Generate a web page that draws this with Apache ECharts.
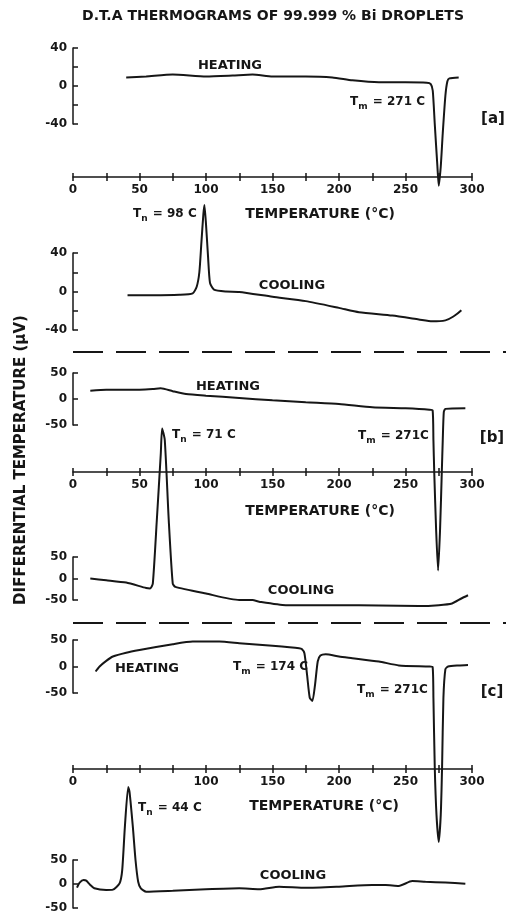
<!DOCTYPE html>
<html>
<head>
<meta charset="utf-8">
<title>DTA thermograms</title>
<script src="https://cdn.jsdelivr.net/npm/echarts@6.0.0/dist/echarts.min.js"></script>
<style>html,body{margin:0;padding:0;background:#fff}</style>
</head>
<body>
<div id="main" style="width:506px;height:914px;"></div>
<script>
// temperature (deg C) / differential temperature (uV)

// [a] heating
var aHeatT = [40, 55, 75, 100, 120, 135, 150, 175, 195, 210, 230, 250, 266, 269, 270.5, 272, 274, 275, 276.5, 278, 280, 281.5, 283, 290];
var aHeatV = [9, 10, 12, 10, 11, 12, 10, 10, 9, 6, 4, 4, 3.5, 2, -5, -40, -85, -105, -85, -50, -10, 5, 8, 9];
// [a] cooling
var aCoolT = [41, 60, 80, 90, 93, 95, 96.5, 98, 98.8, 100, 101.5, 103, 106, 115, 125, 150, 175, 200, 215, 240, 260, 270, 280, 286, 292];
var aCoolV = [-4, -4, -3.5, -2, 5, 20, 50, 80, 90, 70, 37, 9, 2, 0, -0.5, -5.5, -10, -17, -21.5, -25, -29, -31, -30, -26, -19.5];

// [b] heating
var bHeatT = [13, 25, 50, 60, 66, 75, 85, 100, 125, 150, 175, 200, 225, 250, 268, 270.4, 271, 271.6, 273, 274.5, 276, 277.3, 278, 278.8, 280, 295];
var bHeatV = [16, 18, 18, 19, 20.5, 15, 9.6, 6.4, 2, -2.6, -6.4, -9.6, -16, -18, -20.5, -22, -80, -140, -250, -330, -250, -140, -80, -25, -19, -18];
// [b] cooling
var bCoolT = [13, 25, 40, 55, 58, 60, 63, 66, 67, 69, 72, 75, 77, 100, 125, 135, 140, 160, 200, 230, 260, 275, 285, 292, 297];
var bCoolV = [0, -4, -9.5, -22, -23, -12, 135, 290, 349, 322, 135, -12, -19.5, -35, -50, -50, -54, -62, -62, -63, -64, -62, -58, -46.5, -39];

// [c] heating
var cHeatT = [17, 20, 25, 30, 40, 50, 75, 90, 110, 125, 150, 170, 172, 174, 176, 178, 180, 182, 184, 186, 190, 200, 210, 230, 245, 268, 270.4, 271, 272, 273.3, 275, 276.5, 277.5, 278.5, 280, 282, 290, 297];
var cHeatV = [-9.4, 0, 10.6, 18.8, 26, 31, 42, 47, 47, 44, 39, 34.5, 33, 25, -16, -59, -65, -34, 9.4, 20.6, 23, 18.8, 15.7, 9.4, 2, 0, -1, -60, -190, -280, -331, -280, -190, -60, -5, 0, 2, 3];
// [c] cooling
var cCoolT = [3, 5, 8, 10, 13, 16, 25, 30, 35, 37, 39, 41.5, 42.5, 45, 47, 49, 51, 55, 75, 100, 125, 140, 155, 175, 200, 225, 235, 245, 255, 265, 280, 295];
var cCoolV = [-7.7, 2.8, 8.3, 7, -2, -9, -12.5, -11.8, 1.4, 29, 119, 202, 192, 119, 50, 4.8, -9, -16, -14, -11, -9, -11, -5.5, -8, -5.5, -2, -2, -4, 6, 4.5, 3, 0.5];

var INK = '#161616';
var FONT = 'DejaVu Sans';

var chart = echarts.init(document.getElementById('main'));

function pairs(t, v) {
    return t.map(function (x, i) { return [x, v[i]]; });
}

// one grid per curve, all share the same temperature scale
var gridTops = [48, 253, 373, 557, 640, 860];
var gridHeights = [76, 77, 52, 43, 53, 48];
var grids = gridTops.map(function (top, i) {
    return { left: 73, width: 399, top: top, height: gridHeights[i] };
});

function tempAxis(gi, offset, skip50, inward) {
    return {
        type: 'value', gridIndex: gi, position: 'bottom', offset: offset,
        min: 0, max: 300, interval: 25,
        axisLine: { show: !inward, onZero: false, lineStyle: { color: INK, width: 1.5 } },
        axisTick: { show: true, inside: !!inward, length: 4, lineStyle: { color: INK, width: 1.5 } },
        axisLabel: {
            show: !inward, margin: 7, color: INK, fontFamily: FONT, fontWeight: 'bold', fontSize: 12,
            formatter: function (v) {
                if (v % 50 !== 0) return '';
                if (skip50 && v === 50) return '';
                return String(v);
            }
        },
        splitLine: { show: false }
    };
}
function hiddenTemp(gi) {
    return { type: 'value', gridIndex: gi, min: 0, max: 300, show: false };
}
function diffAxis(gi, lim, step) {
    return {
        type: 'value', gridIndex: gi, min: -lim, max: lim, interval: step,
        axisLine: { show: true, onZero: false, lineStyle: { color: INK, width: 1.5 } },
        axisTick: { show: true, inside: true, length: 5, lineStyle: { color: INK, width: 1.5 } },
        axisLabel: {
            margin: 6, color: INK, fontFamily: FONT, fontWeight: 'bold', fontSize: 12,
            formatter: function (v) { return v % lim === 0 ? String(v) : ''; }
        },
        splitLine: { show: false }
    };
}

var xAxes = [
    tempAxis(0, 53, false, false), hiddenTemp(1),
    tempAxis(2, 47, false, false), hiddenTemp(3),
    tempAxis(4, 76, true, false), hiddenTemp(5),
    // second copies give the ticks their upper half
    tempAxis(0, 53, false, true), tempAxis(2, 47, false, true), tempAxis(4, 76, true, true)
];
var yAxes = [
    diffAxis(0, 40, 20), diffAxis(1, 40, 20),
    diffAxis(2, 50, 50), diffAxis(3, 50, 50),
    diffAxis(4, 50, 50), diffAxis(5, 50, 50)
];

function curve(i, t, v) {
    return {
        type: 'line', xAxisIndex: i, yAxisIndex: i, data: pairs(t, v),
        showSymbol: false, clip: false, smooth: 0.2, silent: true,
        lineStyle: { color: INK, width: 2 }
    };
}

var rich = {
    n: { fontSize: 12, fontWeight: 'bold', fontFamily: FONT, fill: INK },
    s: { fontSize: 9, fontWeight: 'bold', fontFamily: FONT, fill: INK, padding: [9, 1, 0, 0] }
};
function note(x, y, text, align, size) {
    return {
        type: 'text', x: x, y: y, silent: true,
        style: {
            text: text, rich: rich, fill: INK, fontFamily: FONT, fontWeight: 'bold', fontSize: size || 12,
            align: align || 'left', textAlign: align || 'left',
            verticalAlign: 'middle', textVerticalAlign: 'middle'
        }
    };
}
function dash(y) {
    return {
        type: 'line', silent: true,
        shape: { x1: 73, y1: y, x2: 506, y2: y },
        style: { stroke: INK, lineWidth: 2, lineDash: [30, 13] }
    };
}

var title = note(273, 16, 'D.T.A THERMOGRAMS OF 99.999 % Bi DROPLETS', 'center', 14);
var yTitle = note(21, 460, 'DIFFERENTIAL TEMPERATURE (\u03bcV)', 'center', 15);
yTitle.rotation = Math.PI / 2;

chart.setOption({
    animation: false,
    backgroundColor: '#fff',
    grid: grids,
    xAxis: xAxes,
    yAxis: yAxes,
    series: [
        curve(0, aHeatT, aHeatV), curve(1, aCoolT, aCoolV),
        curve(2, bHeatT, bHeatV), curve(3, bCoolT, bCoolV),
        curve(4, cHeatT, cHeatV), curve(5, cCoolT, cCoolV)
    ],
    graphic: [
        title, yTitle,
        dash(352), dash(623),
        note(230, 66, 'HEATING', 'center', 13),
        note(350, 102, '{n|T}{s|m}{n| = 271 C}'),
        note(493, 119, '[a]', 'center', 15),
        note(133, 214, '{n|T}{s|n}{n| = 98 C}'),
        note(320, 214, 'TEMPERATURE (\u00b0C)', 'center', 14),
        note(292, 286, 'COOLING', 'center', 13),
        note(228, 387, 'HEATING', 'center', 13),
        note(172, 435, '{n|T}{s|n}{n| = 71 C}'),
        note(358, 436, '{n|T}{s|m}{n| = 271C}'),
        note(492, 438, '[b]', 'center', 15),
        note(320, 511, 'TEMPERATURE (\u00b0C)', 'center', 14),
        note(301, 591, 'COOLING', 'center', 13),
        note(147, 669, 'HEATING', 'center', 13),
        note(233, 667, '{n|T}{s|m}{n| = 174 C}'),
        note(357, 690, '{n|T}{s|m}{n| = 271C}'),
        note(492, 692, '[c]', 'center', 15),
        note(138, 808, '{n|T}{s|n}{n| = 44 C}'),
        note(324, 806, 'TEMPERATURE (\u00b0C)', 'center', 14),
        note(293, 876, 'COOLING', 'center', 13)
    ]
});
</script>
</body>
</html>
